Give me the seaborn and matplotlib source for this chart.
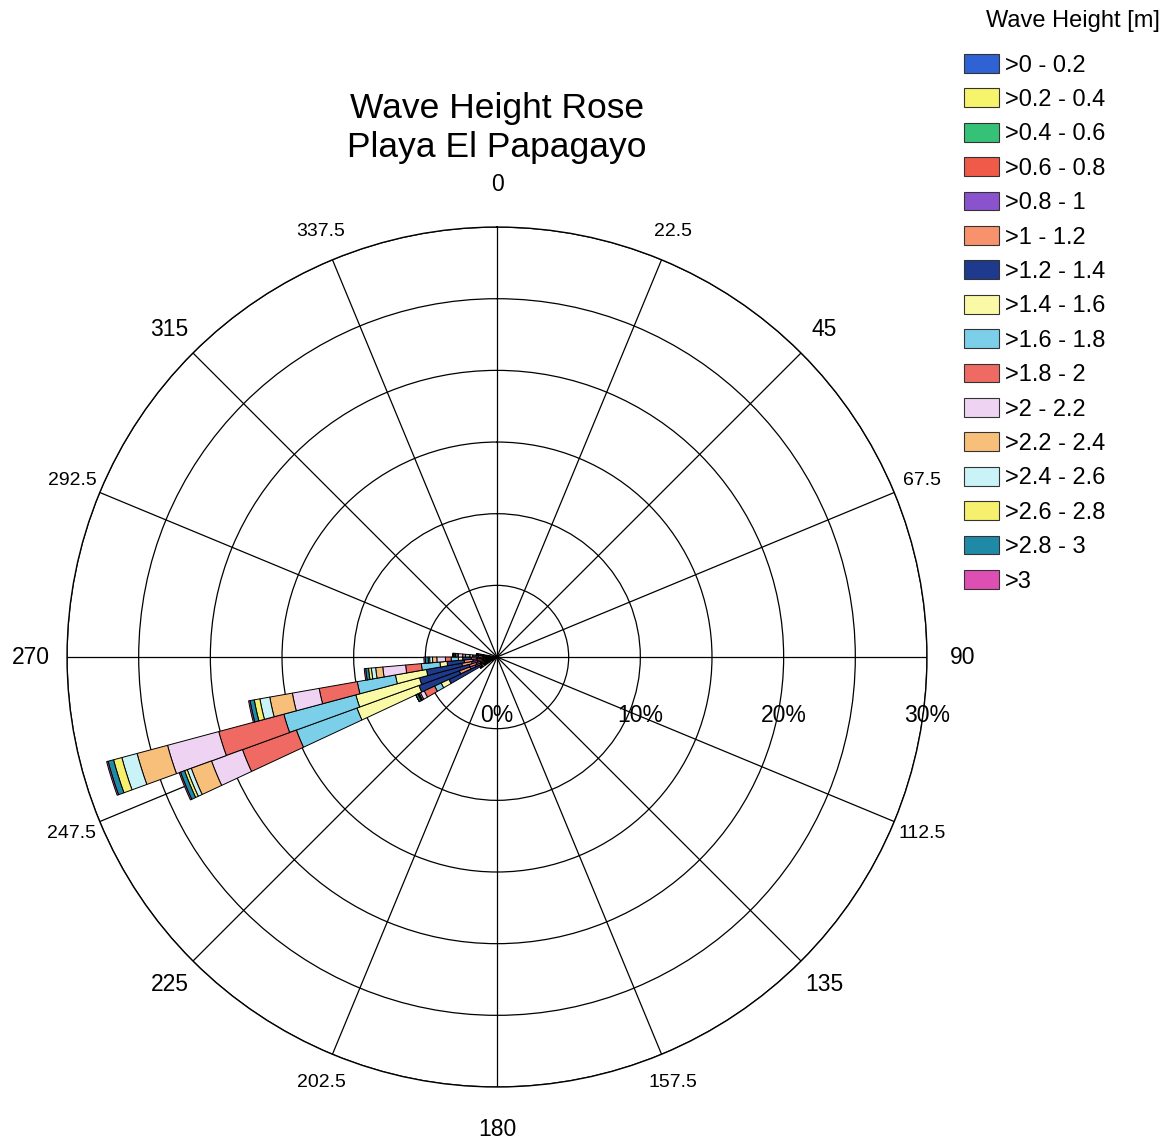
import numpy as np
import pandas as pd
import matplotlib
matplotlib.use("Agg")
import matplotlib.pyplot as plt
from matplotlib.patches import Patch
import seaborn as sns

# Wave height classes (m) and their fill colours
height_bins = [">0 - 0.2", ">0.2 - 0.4", ">0.4 - 0.6", ">0.6 - 0.8", ">0.8 - 1",
               ">1 - 1.2", ">1.2 - 1.4", ">1.4 - 1.6", ">1.6 - 1.8", ">1.8 - 2",
               ">2 - 2.2", ">2.2 - 2.4", ">2.4 - 2.6", ">2.6 - 2.8", ">2.8 - 3", ">3"]
bin_colors = ["#2f62d4", "#f6f46a", "#35c277", "#f05a48", "#8a52cc",
              "#f7926c", "#1e3a8c", "#fafaa6", "#7ccfe8", "#ef6a62",
              "#efd3f3", "#f8bf7a", "#c9f3f7", "#f7ef6e", "#1f8aa6", "#de4fb3"]

# Direction sector centres (degrees from north, 5 degree sectors)
direction_centers = [237.5, 242.5, 247.5, 252.5, 257.5, 262.5, 267.5, 272.5, 277.5]

# Frequency of occurrence (%) per height class for each direction sector
freq_237 = [0.15, 0.15, 0.15, 0.10, 0.10, 0.15, 0.20, 0.20, 0.10, 0.05, 0.0, 0.0, 0.0, 0.0, 0.0, 0.0]
freq_242 = [0.2, 0.2, 0.2, 0.2, 0.2, 0.2, 2.5, 0.6, 0.5, 0.8, 0.3, 0.1, 0.05, 0.05, 0.15, 0.0]
freq_247 = [0.4, 0.4, 0.4, 0.4, 0.4, 0.8, 3.0, 4.6, 4.5, 4.0, 2.3, 1.5, 0.3, 0.2, 0.3, 0.1]
freq_252 = [0.3, 0.3, 0.3, 0.3, 0.3, 0.5, 3.6, 4.6, 5.2, 4.7, 3.7, 2.2, 1.1, 0.6, 0.4, 0.1]
freq_257 = [0.3, 0.3, 0.4, 0.4, 0.4, 0.7, 2.5, 2.2, 2.7, 2.7, 1.9, 1.6, 0.7, 0.4, 0.3, 0.1]
freq_262 = [0.3, 0.3, 0.4, 0.4, 0.3, 0.6, 1.2, 0.5, 1.3, 1.1, 1.6, 0.5, 0.3, 0.2, 0.2, 0.1]
freq_267 = [0.3, 0.3, 0.3, 0.3, 0.2, 0.4, 0.6, 0.3, 0.5, 0.4, 0.6, 0.3, 0.2, 0.1, 0.2, 0.1]
freq_272 = [0.2, 0.2, 0.2, 0.2, 0.2, 0.3, 0.4, 0.2, 0.3, 0.2, 0.3, 0.1, 0.1, 0.05, 0.1, 0.05]
freq_277 = [0.1, 0.1, 0.1, 0.1, 0.1, 0.2, 0.2, 0.1, 0.1, 0.1, 0.1, 0.05, 0.05, 0.0, 0.05, 0.0]
sector_freqs = [freq_237, freq_242, freq_247, freq_252, freq_257,
                freq_262, freq_267, freq_272, freq_277]

direction_ticks = [0, 22.5, 45, 67.5, 90, 112.5, 135, 157.5,
                   180, 202.5, 225, 247.5, 270, 292.5, 315, 337.5]
direction_labels = ["0", "22.5", "45", "67.5", "90", "112.5", "135", "157.5",
                    "180", "202.5", "225", "247.5", "270", "292.5", "315", "337.5"]
ring_values = [5, 10, 15, 20, 25, 30]
ring_labels = [0, 10, 20, 30]

rows = []
for center, freqs in zip(direction_centers, sector_freqs):
    for label, f in zip(height_bins, freqs):
        rows.append({"theta": np.deg2rad(center), "height": label, "freq": f})
df = pd.DataFrame(rows)

sns.set_theme(style="white")
plt.rcParams["font.family"] = ["Liberation Sans", "DejaVu Sans"]
plt.rcParams["text.color"] = "black"

fig = plt.figure(figsize=(11.76, 11.44), dpi=100)
ax = fig.add_axes([0.05697, 0.04983, 0.7313, 0.7517], projection="polar")
ax.set_theta_zero_location("N")
ax.set_theta_direction(-1)

sns.histplot(data=df, x="theta", weights="freq", hue="height",
             hue_order=height_bins[::-1],
             palette=dict(zip(height_bins, bin_colors)),
             multiple="stack", binwidth=np.deg2rad(5), binrange=(0, 2 * np.pi),
             ax=ax, legend=False, edgecolor="black", linewidth=0.7, alpha=1.0)

ax.set_xlabel("")
ax.set_ylabel("")
ax.set_rlim(0, 30)
ax.set_rticks(ring_values)
ax.set_yticklabels([])
ax.set_xticks(np.deg2rad(direction_ticks))
ax.set_xticklabels([])
ax.grid(True, color="black", linewidth=0.9, linestyle="-")
ax.spines["polar"].set_color("black")
ax.spines["polar"].set_linewidth(1.0)
ax.set_facecolor("white")

# Direction labels around the rim
for ang, lab in zip(direction_ticks, direction_labels):
    if ang % 180 == 0:
        size, r = 16.5, 33.0
    elif ang % 90 == 0:
        size, r = 16.5, 32.5
    elif ang % 45 == 0:
        size, r = 16.5, 32.3
    else:
        size, r = 14, 32.1
    ax.text(np.deg2rad(ang), r, lab, ha="center", va="center",
            fontsize=size, color="black", clip_on=False)

# Percentage labels just below the east axis
for v in ring_labels:
    ax.text(0.5 + v / 60.0, 0.5 - 58 / 860, f"{v}%", transform=ax.transAxes,
            ha="center", va="center", fontsize=16.5, color="black")

fig.text(497 / 1176, 1 - 128 / 1144, "Wave Height Rose\nPlaya El Papagayo",
         ha="center", va="center", fontsize=25.5, linespacing=1.25, color="black")

fig.text(1160 / 1176, 1 - 21 / 1144, "Wave Height [m]", ha="right", va="center",
         fontsize=17, color="black")
handles = [Patch(facecolor=c, edgecolor="#333333", linewidth=0.8) for c in bin_colors]
leg = fig.legend(handles, height_bins, loc="upper left",
                 bbox_to_anchor=(964 / 1176, 1 - 54 / 1144), frameon=False,
                 fontsize=17, handlelength=1.5, handleheight=0.85, handletextpad=0.25,
                 labelspacing=0.5, borderaxespad=0, borderpad=0)
for t in leg.get_texts():
    t.set_color("black")

fig.savefig("out.png", dpi=100, facecolor="white")
